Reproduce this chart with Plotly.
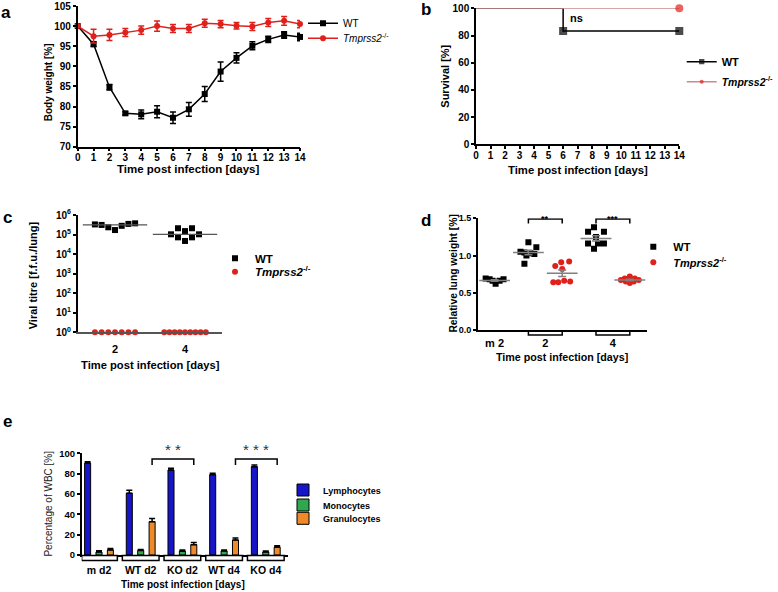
import numpy as np
import plotly.graph_objects as go

W, H = 778, 592
FONT = "Liberation Sans"
RED = "#E0201B"
BLACK = "#000000"
GRAY = "#808080"

# ---------------- DATA ----------------
# (a) body weight
days = [0, 1, 2, 3, 4, 5, 6, 7, 8, 9, 10, 11, 12, 13, 14]
wt_weight = [100, 95.5, 84.8, 78.3, 78.05, 78.7, 77.2, 79.3, 83.1, 88.7, 92.1, 95.1, 96.7, 97.8, 97.3]
wt_weight_err = [0, 0.6, 0.7, 0.4, 1.1, 1.5, 1.45, 1.7, 1.85, 2.4, 1.3, 1.0, 0.8, 0.8, 0.95]
ko_weight = [100, 97.5, 97.8, 98.4, 99.0, 100.0, 99.4, 99.4, 100.7, 100.5, 100.1, 99.9, 100.9, 101.3, 100.5]
ko_weight_err = [0, 1.7, 1.4, 1.0, 1.0, 1.25, 1.0, 1.0, 1.0, 0.9, 0.8, 1.0, 1.0, 1.1, 0.9]

# (b) survival
surv_days_wt = [0, 6, 14]
surv_wt = [100, 83.3, 83.3]
surv_days_ko = [0, 14]
surv_ko = [100, 100]

# (c) viral titre
titre_days = ["2", "4"]
titre_wt_d2 = [3.3e5, 3.1e5, 2.35e5, 1.7e5, 2.8e5, 3.5e5, 3.75e5]
titre_wt_d4 = [1.03e5, 2.1e5, 7.2e4, 1.5e5, 4.7e4, 2.1e5, 7.2e4, 1.03e5]
titre_ko_d2 = [1, 1, 1, 1, 1, 1, 1]
titre_ko_d4 = [1, 1, 1, 1, 1, 1, 1, 1, 1]

# (d) relative lung weight
lung_groups = ["m 2", "2", "4"]
lung_mock = [0.69, 0.68, 0.66, 0.62, 0.66, 0.68]
lung_wt_d2 = [1.18, 1.11, 1.05, 1.04, 1.03, 1.02, 1.00, 0.89]
lung_ko_d2 = [0.92, 0.91, 0.86, 0.82, 0.65, 0.64, 0.64, 0.66]
lung_wt_d4 = [1.38, 1.32, 1.32, 1.25, 1.16, 1.16, 1.16, 1.09]
lung_ko_d4 = [0.72, 0.69, 0.69, 0.67, 0.67, 0.67, 0.65, 0.65, 0.63]

# (e) white blood cells
wbc_groups = ["m d2", "WT d2", "KO d2", "WT d4", "KO d4"]
lymphocytes = [90.2, 60.7, 83.6, 79.0, 86.8]
lymphocytes_err = [1.5, 3.0, 1.8, 1.3, 1.6]
monocytes = [3.0, 4.5, 3.8, 4.0, 3.0]
monocytes_err = [1.3, 1.0, 1.0, 1.0, 1.0]
granulocytes = [5.0, 32.8, 10.2, 14.7, 7.6]
granulocytes_err = [1.5, 3.0, 2.0, 2.0, 1.5]

# ---------------- STYLE / LAYOUT HELPERS ----------------
def px(x):
    return x / W

def py(y):
    return 1 - y / H

# beeswarm offsets (in px), styling only
off_c_d2 = [-3, -2, -1, 0, 1, 2, 3]
off_c_d4 = [-2, -1, -1, 0, 0, 1, 1, 2]
off_c_ko_d4 = [-4, -3, -2, -1, 0, 1, 2, 3, 4]
off_d_mock = [-9, -5, -2, 1, 5, 9]
off_d_wt2 = [0, 8, -8, -4, 2, 6, -2, -4]
off_d_ko2 = [7, -1, -7, 0, 8, -9, -4, 2]
off_d_wt4 = [-2, -8, 8, 0, -8, 2, 8, -2]
off_d_ko4 = [0, -5, 5, -9, 0, 9, -4, 4, 0]

C_UNIT = 70.0   # px per category unit in panel c
D_UNIT = 34.0   # px per category unit in panel d

def place(center, offs, step, unit):
    return [center + o * step / unit for o in offs]

tick_font = dict(family=FONT, size=10, color=BLACK, weight="bold")

def axis_style(**kw):
    d = dict(showline=True, linecolor=BLACK, linewidth=1.5, ticks="outside", ticklen=3,
             tickwidth=1.5, tickcolor=BLACK, showgrid=False, zeroline=False,
             tickfont=tick_font, fixedrange=True)
    d.update(kw)
    return d

fig = go.Figure()

# ---------------- PANEL A ----------------
fig.add_trace(go.Scatter(
    x=days, y=wt_weight, mode="lines+markers", name="WT", legend="legend",
    line=dict(color=BLACK, width=1.5), marker=dict(symbol="square", size=6, color=BLACK),
    error_y=dict(type="data", array=wt_weight_err, color=BLACK, thickness=1.5, width=3),
    cliponaxis=False, xaxis="x", yaxis="y"))
fig.add_trace(go.Scatter(
    x=days, y=ko_weight, mode="lines+markers", name="<i>Tmprss2</i><sup>-/-</sup>", legend="legend2",
    line=dict(color=RED, width=1.5), marker=dict(symbol="circle", size=6, color=RED),
    error_y=dict(type="data", array=ko_weight_err, color=RED, thickness=1.5, width=3),
    cliponaxis=False, xaxis="x", yaxis="y"))

# ---------------- PANEL B ----------------
fig.add_trace(go.Scatter(
    x=surv_days_wt, y=surv_wt, mode="lines+markers", name="WT", legend="legend3",
    line=dict(color=BLACK, width=1.5, shape="hv"),
    marker=dict(symbol="square", size=[0, 8, 8], color=BLACK, line=dict(width=0)),
    cliponaxis=False, xaxis="x2", yaxis="y2"))
fig.add_trace(go.Scatter(
    x=surv_days_ko, y=surv_ko, mode="lines+markers", name="<i>Tmprss2</i><sup>-/-</sup>", legend="legend4",
    line=dict(color="#C98A8A", width=1.5, shape="hv"),
    marker=dict(symbol="circle", size=[0, 8], color=RED, line=dict(width=0)),
    cliponaxis=False, xaxis="x2", yaxis="y2"))

# ---------------- PANEL C ----------------
fig.add_trace(go.Scatter(
    x=place(0, off_c_d2, 6.7, C_UNIT) + place(1, off_c_d4, 7.0, C_UNIT),
    y=titre_wt_d2 + titre_wt_d4, mode="markers", name="WT", legend="legend5",
    marker=dict(symbol="square", size=6, color=BLACK), cliponaxis=False, xaxis="x3", yaxis="y3"))
fig.add_trace(go.Scatter(
    x=place(0, off_c_d2, 6.7, C_UNIT) + place(1, off_c_ko_d4, 5.2, C_UNIT),
    y=titre_ko_d2 + titre_ko_d4, mode="markers", name="<i>Tmprss2</i><sup>-/-</sup>", legend="legend6",
    marker=dict(symbol="circle", size=6, color=RED), cliponaxis=False, xaxis="x3", yaxis="y3"))
fig.add_trace(go.Scatter(
    x=[0, 1], y=[float(np.median(titre_wt_d2)), float(np.median(titre_wt_d4))], mode="markers",
    showlegend=False, hoverinfo="skip",
    marker=dict(symbol="line-ew", size=46, line=dict(color="#555555", width=1.2)),
    xaxis="x3", yaxis="y3"))

# ---------------- PANEL D ----------------
d_groups = [(0, lung_mock, off_d_mock, "WT"), (1, lung_wt_d2, off_d_wt2, "WT"),
            (2, lung_ko_d2, off_d_ko2, "KO"), (3, lung_wt_d4, off_d_wt4, "WT"),
            (4, lung_ko_d4, off_d_ko4, "KO")]
wt_x, wt_y, ko_x, ko_y = [], [], [], []
for pos, vals, offs, g in d_groups:
    xs = [pos + o / D_UNIT for o in offs]
    if g == "WT":
        wt_x += xs; wt_y += vals
    else:
        ko_x += xs; ko_y += vals
fig.add_trace(go.Scatter(x=wt_x, y=wt_y, mode="markers", name="WT", legend="legend7",
                         marker=dict(symbol="square", size=6, color=BLACK), xaxis="x4", yaxis="y4"))
fig.add_trace(go.Scatter(x=ko_x, y=ko_y, mode="markers", name="<i>Tmprss2</i><sup>-/-</sup>", legend="legend8",
                         marker=dict(symbol="circle", size=6, color=RED), xaxis="x4", yaxis="y4"))
# mean + SEM lines on top
for pos, vals, offs, g in d_groups:
    arr = np.array(vals)
    fig.add_trace(go.Scatter(
        x=[pos], y=[arr.mean()], mode="markers", showlegend=False, hoverinfo="skip",
        marker=dict(symbol="line-ew", size=22, line=dict(color=GRAY, width=1.5)),
        error_y=dict(type="data", array=[arr.std(ddof=1) / np.sqrt(len(arr))], color=GRAY, thickness=1.5, width=4),
        xaxis="x4", yaxis="y4"))

# ---------------- PANEL E ----------------
for name, vals, errs, col, leg in [("Lymphocytes", lymphocytes, lymphocytes_err, "#1616C8", "legend9"),
                                   ("Monocytes", monocytes, monocytes_err, "#2FA84F", "legend10"),
                                   ("Granulocytes", granulocytes, granulocytes_err, "#EE8A2A", "legend11")]:
    fig.add_trace(go.Bar(
        x=wbc_groups, y=vals, name=name, legend=leg,
        marker=dict(color=col, line=dict(color=BLACK, width=1)),
        error_y=dict(type="data", array=errs, arrayminus=[0] * len(errs), symmetric=False,
                     color=BLACK, thickness=1.5, width=3),
        xaxis="x5", yaxis="y5"))

# ---------------- AXES ----------------
layout = dict(
    width=W, height=H, margin=dict(l=0, r=0, t=0, b=0, autoexpand=False),
    paper_bgcolor="white", plot_bgcolor="white", font=dict(family=FONT, color=BLACK),
    barmode="group", bargap=0.18, bargroupgap=0.47,
    xaxis=axis_style(domain=[px(77.7), px(300)], anchor="y", range=[0, 14], dtick=1, ticklabelstandoff=-2),
    yaxis=axis_style(domain=[py(146.7), py(6)], anchor="x", range=[70, 105], dtick=5),
    xaxis2=axis_style(domain=[px(476), px(679.3)], anchor="y2", range=[0, 14], dtick=1, ticklabelstandoff=-2),
    yaxis2=axis_style(domain=[py(144.3), py(8.3)], anchor="x2", range=[0, 100], dtick=20),
    xaxis3=axis_style(domain=[px(77.7), px(221.7)], anchor="y3", range=[-0.533, 1.524],
                      tickvals=[0, 1], ticktext=titre_days, ticks="", linecolor="#555555",
                      tickfont=dict(family=FONT, size=11, color=BLACK, weight="bold"), ticklabelstandoff=6),
    yaxis3=axis_style(domain=[py(332.3), py(215)], anchor="x3", type="log", range=[0, 6],
                      tickvals=[1, 10, 100, 1e3, 1e4, 1e5, 1e6],
                      ticktext=["10<sup>%d</sup>" % i for i in range(7)]),
    xaxis4=axis_style(domain=[px(477.7), px(646.7)], anchor="y4", range=[-0.5, 4.5],
                      tickvals=[0, 1.5, 3.5], ticktext=lung_groups, ticks="",
                      tickfont=dict(family=FONT, size=11, color=BLACK, weight="bold"), ticklabelstandoff=2),
    yaxis4=axis_style(domain=[py(330), py(218.3)], anchor="x4", range=[0, 1.5],
                      tickvals=[0, 0.5, 1.0, 1.5], tickformat=".1f",
                      tickfont=dict(family=FONT, size=9, color=BLACK, weight="bold")),
    xaxis5=axis_style(domain=[px(81.7), px(288.3)], anchor="y5", range=[-0.415, 4.54],
                      type="category", ticks="", ticklabelstandoff=5,
                      tickfont=dict(family=FONT, size=10.5, color=BLACK, weight="bold")),
    yaxis5=axis_style(domain=[py(555), py(453.3)], anchor="x5", range=[0, 100], dtick=20,
                      tickfont=dict(family=FONT, size=9.5, color=BLACK, weight="bold")),
)

# ---------------- LEGENDS (one per item) ----------------
def leg(tx, ty, size, bold=True):
    return dict(x=px(tx - 40), y=py(ty), xanchor="left", yanchor="middle",
                bgcolor="rgba(0,0,0,0)", borderwidth=0, itemwidth=30,
                font=dict(family=FONT, size=size, color=BLACK, weight="bold" if bold else "normal"))

layout["legend"] = leg(343, 23.3, 10, bold=False)
layout["legend2"] = leg(343, 38.3, 10, bold=False)
layout["legend3"] = leg(721.7, 61.7, 11)
layout["legend4"] = leg(721.7, 81.7, 10.5)
layout["legend5"] = leg(255, 258.3, 11.5)
layout["legend6"] = leg(255, 271.7, 11.5)
layout["legend7"] = leg(673.3, 246.7, 11)
layout["legend8"] = leg(673.3, 262.3, 11)
layout["legend9"] = leg(323, 490, 9)
layout["legend10"] = leg(323, 505, 9)
layout["legend11"] = leg(323, 518.3, 9)

fig.update_layout(**layout)

# ---------------- ANNOTATIONS ----------------
def txt(x, y, s, size, bold=True, angle=0, color=BLACK):
    fig.add_annotation(x=px(x), y=py(y), xref="paper", yref="paper", text=s, showarrow=False,
                       textangle=angle, xanchor="center", yanchor="middle",
                       font=dict(family=FONT, size=size, color=color, weight="bold" if bold else "normal"))

for lab, x, y in [("a", 6, 12), ("b", 426, 10), ("c", 7.5, 217), ("d", 426, 220), ("e", 8, 421)]:
    txt(x, y, lab, 17)

txt(49.3, 82, "Body weight [%]", 10, angle=-90)
txt(187.7, 169.3, "Time post infection [days]", 11.5)
txt(445, 76.7, "Survival [%]", 11, angle=-90)
txt(578.3, 170, "Time post infection [days]", 11.3)
txt(33.3, 275, "Viral titre [f.f.u./lung]", 11, angle=-90)
txt(150, 365, "Time post infection [days]", 11.2)
txt(453.3, 273.3, "Relative lung weight [%]", 10.3, angle=-90)
txt(562.3, 356.7, "Time post infection [days]", 10.7)
txt(48.3, 503.3, "Percentage of WBC [%]", 10, bold=False, angle=-90, color="#222222")
txt(183, 584, "Time post infection [days]", 10)

# ns in panel b
fig.add_annotation(x=6.9, y=93, xref="x2", yref="y2", text="ns", showarrow=False, xanchor="center",
                   font=dict(family=FONT, size=11, color=BLACK, weight="bold"))

# significance brackets panel d
for x0, x1, stars in [(1, 2, "**"), (3, 4, "***")]:
    fig.add_shape(type="path", xref="x4", yref="y4",
                  path=f"M {x0},1.43 L {x0},1.49 L {x1},1.49 L {x1},1.43",
                  line=dict(color=BLACK, width=1.5))
    fig.add_annotation(x=(x0 + x1) / 2, y=1.055, xref="x4", yref="y4 domain", text=stars, showarrow=False,
                       font=dict(family=FONT, size=9, color=BLACK, weight="bold"))
    fig.add_shape(type="path", xref="x4", yref="y4 domain",
                  path=f"M {x0},-0.01 L {x0},-0.045 L {x1},-0.045 L {x1},-0.01",
                  line=dict(color=BLACK, width=1.5))

# significance brackets panel e
boff = 0.273
for g0, g1, stars in [(1, 2, "* *"), (3, 4, "* * *")]:
    fig.add_shape(type="path", xref="x5", yref="y5",
                  path=f"M {g0 + boff},88.5 L {g0 + boff},94.4 L {g1 + boff},94.4 L {g1 + boff},88.5",
                  line=dict(color=BLACK, width=1.5))
    fig.add_annotation(x=(g0 + g1) / 2 + boff, y=1.04, xref="x5", yref="y5 domain", text=stars,
                       yanchor="middle", showarrow=False, font=dict(family=FONT, size=15, color="#333333"))

# group boxes under axis panel e
for i in range(len(wbc_groups)):
    fig.add_shape(type="rect", xref="x5", yref="y5 domain",
                  x0=max(i - 0.44, -0.415), x1=i + 0.44, y0=-0.055, y1=-0.005,
                  fillcolor="white", line=dict(color=BLACK, width=1.5))

fig.write_html("out.html", config={"displayModeBar": False},
               post_script="document.body.style.margin='0px';document.body.style.overflow='hidden';")
